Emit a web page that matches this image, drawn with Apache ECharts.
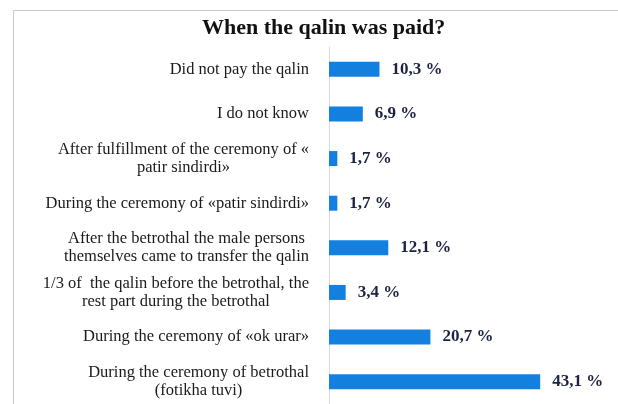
<!DOCTYPE html>
<html><head><meta charset="utf-8">
<script src="https://cdn.jsdelivr.net/npm/echarts@6/dist/echarts.min.js"></script>
<style>html,body{margin:0;padding:0;background:#fff}#c{width:618px;height:404px}</style>
</head><body><div id="c"></div>
<script>
const titleText = "When the qalin was paid?";
const categories = [
  "Did not pay the qalin",
  "I do not know",
  "After fulfillment of the ceremony of «\npatir sindirdi»",
  "During the ceremony of «patir sindirdi»",
  "After the betrothal the male persons\nthemselves came to transfer the qalin",
  "1/3 of  the qalin before the betrothal, the\nrest part during the betrothal",
  "During the ceremony of «ok urar»",
  "During the ceremony of betrothal\n(fotikha tuvi)"
];
const values = [10.3, 6.9, 1.7, 1.7, 12.1, 3.4, 20.7, 43.1];
const valueLabels = ["10,3 %", "6,9 %", "1,7 %", "1,7 %", "12,1 %", "3,4 %", "20,7 %", "43,1 %"];

const labelFont = {fontFamily: 'Liberation Serif', fontSize: 16.5, color: '#1a1a1a', lineHeight: 18};

const chart = echarts.init(document.getElementById('c'), null, {renderer: 'canvas'});
chart.setOption({
  animation: false,
  backgroundColor: '#fff',
  title: {
    text: titleText, left: 197, top: 12,
    textStyle: {fontFamily: 'Liberation Serif', fontWeight: 'bold', fontSize: 22, color: '#111'}
  },
  graphic: [{
    type: 'rect', shape: {x: 13.5, y: 10.5, width: 640, height: 420},
    style: {fill: 'none', stroke: '#c8c8c8', lineWidth: 1}, silent: true
  }],
  grid: {left: 329, right: 44, top: 47, height: 360, containLabel: false},
  xAxis: {type: 'value', min: 0, max: 50, show: false},
  yAxis: {
    type: 'category', data: categories, inverse: true,
    axisLine: {show: true, lineStyle: {color: '#d9d9d9', width: 1}},
    axisTick: {show: false},
    axisLabel: Object.assign({
      margin: 20, align: 'right',
      formatter: v => v.split('\n').map(s => '{c|' + s + '}').join('\n'),
      rich: {c: Object.assign({align: 'center'}, labelFont)}
    }, labelFont)
  },
  series: [{
    type: 'bar', data: values, barWidth: 15,
    itemStyle: {color: '#1380e0'},
    label: {
      show: true, position: 'right', distance: 12,
      formatter: p => valueLabels[p.dataIndex],
      fontFamily: 'Liberation Serif', fontSize: 17, fontWeight: 'bold', color: '#1c2340'
    }
  }]
});
</script></body></html>
